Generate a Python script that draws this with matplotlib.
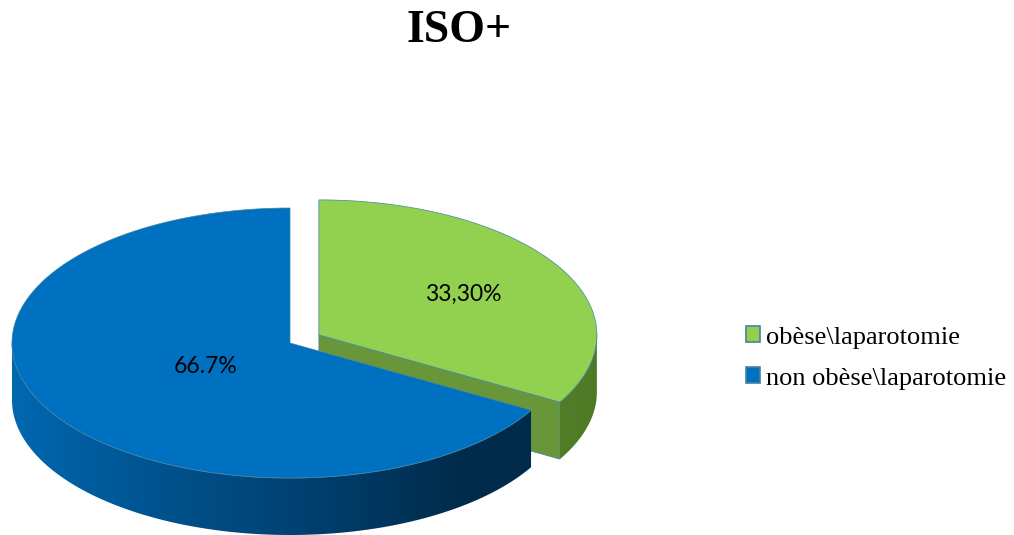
import numpy as np
import matplotlib.pyplot as plt
from matplotlib.patches import Polygon, Patch
from matplotlib.colors import LinearSegmentedColormap

# ---- data ----
labels = ["obèse\\laparotomie", "non obèse\\laparotomie"]
values = [33.3, 66.7]
value_text = ["33,30%", "66.7%"]
explode = [0.12, 0.0]

top_colors = ["#92D050", "#0070C0"]
side_maps = [
    LinearSegmentedColormap.from_list("g", ["#7AAE45", "#5F8E2F", "#4E7A26"]),
    LinearSegmentedColormap.from_list("b", ["#0068B0", "#00528E", "#00406F", "#002C4C", "#002B4A"]),
]
face_colors = ["#6A963A", "#004A80"]
edge_col = "#3F86A8"

# ---- geometry of the tilted pie (pixel space) ----
W, H = 1014, 535
cx, cy = 290, 343
rx, ry = 278, 135
depth = 57

fig = plt.figure(figsize=(W / 100, H / 100), dpi=100)
ax = fig.add_axes([0, 0, 1, 1])
ax.set_xlim(0, W)
ax.set_ylim(H, 0)
ax.axis("off")


def pt(theta, r=1.0, z=0.0, off=(0.0, 0.0)):
    t = np.radians(theta)
    return (cx + off[0] + r * rx * np.cos(t), cy + off[1] - r * ry * np.sin(t) + z)


def gradient_fill(poly_xy, cmap, zorder):
    poly = Polygon(poly_xy, closed=True, facecolor="none", edgecolor="none")
    ax.add_patch(poly)
    grad = np.linspace(0, 1, 256).reshape(1, -1)
    im = ax.imshow(grad, cmap=cmap, extent=(cx - rx, cx + rx + 40, H + 50, 0),
                   aspect="auto", zorder=zorder, interpolation="bilinear")
    im.set_clip_path(poly)


# slice angles: start at 12 o'clock, go clockwise
fracs = np.array(values) / sum(values)
starts, ends = [], []
a = 90.0
for f in fracs:
    starts.append(a)
    ends.append(a - 360 * f)
    a -= 360 * f

slices = []
for i in range(len(values)):
    mid = np.radians((starts[i] + ends[i]) / 2)
    off = (explode[i] * rx * np.cos(mid), -explode[i] * ry * np.sin(mid))
    slices.append((starts[i], ends[i], off))


def draw_radial_face(i, ang, zorder):
    s, e, off = slices[i]
    v0 = pt(0, 0, 0, off)
    r0 = pt(ang, 1, 0, off)
    r1 = pt(ang, 1, depth, off)
    v1 = pt(0, 0, depth, off)
    ax.add_patch(Polygon([v0, r0, r1, v1], closed=True, facecolor=face_colors[i],
                         edgecolor=edge_col, linewidth=0.5, zorder=zorder))


def draw_wall(i, zorder):
    s, e, off = slices[i]
    # visible front part of the rim: angles between 180 and 360 (i.e. -180..0)
    lo, hi = e, s
    segs = []
    for k in range(-1, 2):
        a0 = max(lo, -180 + 360 * k)
        a1 = min(hi, 0 + 360 * k)
        if a1 > a0:
            segs.append((a0, a1))
    for a0, a1 in segs:
        th = np.linspace(a0, a1, 120)
        top = [pt(t, 1, 0, off) for t in th]
        bot = [pt(t, 1, depth, off) for t in th[::-1]]
        gradient_fill(top + bot, side_maps[i], zorder)
        xs, ys = zip(*top)
        ax.plot(xs, ys, color=edge_col, lw=0.6, zorder=zorder + 0.1)


def draw_top(i, zorder):
    s, e, off = slices[i]
    th = np.linspace(s, e, 300)
    rim = [pt(t, 1, 0, off) for t in th]
    ax.add_patch(Polygon([pt(0, 0, 0, off)] + rim, closed=True, facecolor=top_colors[i],
                         edgecolor=edge_col, linewidth=0.5, zorder=zorder))


# green's clockwise cut face sits behind the blue slice
draw_radial_face(0, ends[0], 1)
draw_wall(1, 2)
draw_top(1, 3)
draw_wall(0, 4)
draw_top(0, 5)

# value labels
label_r = [0.6, 0.35]
for i in range(len(values)):
    s, e, off = slices[i]
    mid = (s + e) / 2
    x, y = pt(mid, label_r[i], 0, off)
    ax.text(x, y, value_text[i], ha="center", va="center", fontsize=16.5,
            family="Lato", color="black", zorder=10)

fig.text(459 / W, 1 - 31 / H, "ISO+", ha="center", va="center", fontsize=33,
         fontweight="bold", family="Liberation Serif")

handles = [Patch(facecolor=c, edgecolor="#4A7FA0", linewidth=1.2) for c in top_colors]
fig.legend(handles, labels, loc="center left", bbox_to_anchor=(722 / W, 1 - 358 / H),
           frameon=False, handlelength=0.55, handleheight=0.55, handletextpad=0.2,
           labelspacing=0.7, prop={"family": "Liberation Serif", "size": 19})

fig.savefig("out.png", dpi=100)
